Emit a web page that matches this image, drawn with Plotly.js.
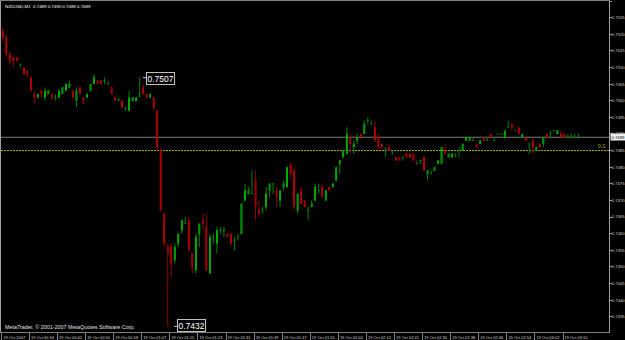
<!DOCTYPE html>
<html><head><meta charset="utf-8">
<script src="https://cdn.plot.ly/plotly-3.0.1.min.js"></script>
<style>html,body{margin:0;padding:0;background:#000;}#chart{width:625px;height:340px;}</style>
</head><body><div id="chart"></div>
<script>
const symbol = 'NZDUSD,M1';
const openP = [0.7521,0.7519,0.7514,0.7513,0.7513,0.7511,0.7510,0.7509,0.7507,0.7502,
0.7501,0.7503,0.7501,0.7502,0.7502,0.7501,0.7501,0.7502,0.7503,0.7504,
0.7503,0.7500,0.7504,0.7501,0.7501,0.7503,0.7505,0.7506,0.7506,0.7506,
0.7505,0.7504,0.7501,0.7500,0.7500,0.7498,0.7497,0.7500,0.7500,0.7502,
0.7504,0.7502,0.7501,0.7501,0.7497,0.7485,0.7466,0.7456,0.7456,0.7452,
0.7457,0.7461,0.7463,0.7464,0.7454,0.7449,0.7460,0.7464,0.7462,0.7448,
0.7459,0.7457,0.7461,0.7461,0.7460,0.7460,0.7458,0.7459,0.7460,0.7470,
0.7472,0.7472,0.7476,0.7467,0.7467,0.7468,0.7473,0.7475,0.7473,0.7470,
0.7474,0.7474,0.7481,0.7479,0.7467,0.7473,0.7470,0.7467,0.7468,0.7470,
0.7473,0.7474,0.7470,0.7474,0.7474,0.7476,0.7481,0.7483,0.7484,0.7489,
0.7486,0.7488,0.7490,0.7490,0.7494,0.7493,0.7492,0.7489,0.7487,0.7485,
0.7486,0.7484,0.7483,0.7483,0.7483,0.7484,0.7484,0.7484,0.7481,0.7482,
0.7483,0.7478,0.7478,0.7479,0.7481,0.7481,0.7485,0.7483,0.7483,0.7484,
0.7485,0.7485,0.7488,0.7488,0.7488,0.7487,0.7487,0.7489,0.7488,0.7490,
0.7488,0.7490,0.7490,0.7489,0.7492,0.7493,0.7491,0.7492,0.7489,0.7489,
0.7487,0.7488,0.7485,0.7487,0.7487,0.7490,0.7490,0.7491,0.7490,0.7490,
0.7490,0.7489,0.7489,0.7489,0.7489];
const highP = [0.7522,0.7520,0.7515,0.7513,0.7513,0.7511,0.7510,0.7509,0.7507,0.7503,
0.7502,0.7503,0.7504,0.7503,0.7502,0.7502,0.7503,0.7504,0.7505,0.7506,
0.7503,0.7504,0.7504,0.7501,0.7502,0.7505,0.7508,0.7506,0.7506,0.7507,
0.7506,0.7504,0.7501,0.7501,0.7500,0.7498,0.7503,0.7501,0.7501,0.7507,
0.7505,0.7502,0.7502,0.7501,0.7497,0.7486,0.7466,0.7457,0.7457,0.7457,
0.7460,0.7464,0.7465,0.7465,0.7454,0.7460,0.7463,0.7466,0.7466,0.7460,
0.7460,0.7462,0.7462,0.7462,0.7460,0.7460,0.7459,0.7460,0.7469,0.7475,
0.7474,0.7479,0.7479,0.7470,0.7468,0.7474,0.7475,0.7475,0.7474,0.7473,
0.7476,0.7480,0.7481,0.7480,0.7472,0.7474,0.7470,0.7468,0.7470,0.7475,
0.7475,0.7475,0.7473,0.7474,0.7475,0.7480,0.7482,0.7485,0.7492,0.7490,
0.7488,0.7490,0.7490,0.7494,0.7495,0.7494,0.7494,0.7490,0.7487,0.7486,
0.7487,0.7485,0.7483,0.7483,0.7483,0.7484,0.7484,0.7484,0.7482,0.7482,
0.7483,0.7479,0.7479,0.7480,0.7482,0.7486,0.7487,0.7484,0.7484,0.7484,
0.7486,0.7487,0.7489,0.7489,0.7489,0.7487,0.7488,0.7489,0.7489,0.7490,
0.7489,0.7490,0.7490,0.7491,0.7494,0.7493,0.7491,0.7492,0.7490,0.7489,
0.7487,0.7489,0.7486,0.7487,0.7489,0.7490,0.7491,0.7491,0.7491,0.7491,
0.7490,0.7490,0.7490,0.7490,0.7490];
const lowP = [0.7518,0.7513,0.7511,0.7510,0.7512,0.7510,0.7508,0.7507,0.7503,0.7499,
0.7501,0.7501,0.7500,0.7502,0.7500,0.7500,0.7501,0.7502,0.7503,0.7504,
0.7501,0.7498,0.7502,0.7499,0.7501,0.7503,0.7505,0.7505,0.7505,0.7505,
0.7505,0.7502,0.7500,0.7500,0.7498,0.7497,0.7497,0.7500,0.7500,0.7501,
0.7502,0.7501,0.7501,0.7497,0.7485,0.7467,0.7456,0.7432,0.7447,0.7451,
0.7456,0.7460,0.7463,0.7455,0.7448,0.7448,0.7456,0.7461,0.7449,0.7448,
0.7457,0.7454,0.7460,0.7459,0.7459,0.7457,0.7455,0.7458,0.7460,0.7470,
0.7472,0.7472,0.7464,0.7465,0.7466,0.7467,0.7471,0.7472,0.7468,0.7468,
0.7473,0.7474,0.7477,0.7467,0.7466,0.7469,0.7468,0.7464,0.7468,0.7470,
0.7472,0.7471,0.7470,0.7473,0.7474,0.7476,0.7478,0.7483,0.7484,0.7484,
0.7484,0.7487,0.7489,0.7490,0.7493,0.7493,0.7488,0.7485,0.7486,0.7483,
0.7485,0.7484,0.7482,0.7482,0.7482,0.7483,0.7483,0.7482,0.7481,0.7481,
0.7479,0.7476,0.7478,0.7479,0.7481,0.7481,0.7484,0.7483,0.7483,0.7483,
0.7483,0.7485,0.7488,0.7488,0.7488,0.7486,0.7487,0.7488,0.7488,0.7489,
0.7488,0.7490,0.7490,0.7489,0.7492,0.7491,0.7491,0.7490,0.7489,0.7488,
0.7484,0.7484,0.7485,0.7486,0.7486,0.7489,0.7489,0.7491,0.7490,0.7489,
0.7489,0.7489,0.7489,0.7489,0.7489];
const closeP = [0.7519,0.7514,0.7512,0.7512,0.7512,0.7511,0.7508,0.7508,0.7503,0.7501,
0.7502,0.7502,0.7503,0.7503,0.7501,0.7501,0.7503,0.7504,0.7505,0.7505,
0.7501,0.7503,0.7502,0.7500,0.7502,0.7505,0.7507,0.7505,0.7505,0.7506,
0.7505,0.7502,0.7500,0.7500,0.7498,0.7498,0.7501,0.7501,0.7501,0.7502,
0.7502,0.7501,0.7502,0.7498,0.7486,0.7467,0.7457,0.7454,0.7451,0.7456,
0.7460,0.7464,0.7463,0.7455,0.7450,0.7459,0.7463,0.7463,0.7449,0.7459,
0.7459,0.7461,0.7461,0.7461,0.7459,0.7457,0.7458,0.7459,0.7469,0.7473,
0.7473,0.7472,0.7468,0.7466,0.7467,0.7472,0.7475,0.7475,0.7471,0.7473,
0.7475,0.7480,0.7478,0.7468,0.7472,0.7469,0.7468,0.7467,0.7469,0.7474,
0.7473,0.7471,0.7473,0.7473,0.7475,0.7480,0.7482,0.7485,0.7490,0.7487,
0.7487,0.7489,0.7489,0.7493,0.7494,0.7493,0.7488,0.7486,0.7486,0.7485,
0.7485,0.7484,0.7482,0.7482,0.7483,0.7483,0.7483,0.7482,0.7481,0.7482,
0.7479,0.7479,0.7478,0.7480,0.7482,0.7486,0.7484,0.7484,0.7484,0.7484,
0.7485,0.7487,0.7489,0.7489,0.7488,0.7486,0.7488,0.7488,0.7488,0.7489,
0.7488,0.7490,0.7490,0.7491,0.7492,0.7492,0.7491,0.7490,0.7490,0.7488,
0.7487,0.7486,0.7486,0.7486,0.7489,0.7489,0.7490,0.7491,0.7491,0.7489,
0.7489,0.7489,0.7489,0.7489,0.7489];
const tickLabels = ['19 Oct 2007','19 Oct 00:34','19 Oct 00:42','19 Oct 00:50','19 Oct 00:58',
'19 Oct 01:07','19 Oct 01:15','19 Oct 01:23','19 Oct 01:31','19 Oct 01:39','19 Oct 01:47',
'19 Oct 01:55','19 Oct 02:04','19 Oct 02:12','19 Oct 02:21','19 Oct 02:30','19 Oct 02:38',
'19 Oct 02:46','19 Oct 02:54','19 Oct 03:02','19 Oct 03:10'];
const barsPerLabel = 8;
const bidPrice = 0.7489;
const fiboLevel = 0.7485;
const fiboLabel = '0.0';
const markHighIdx = 39;
const markLowIdx = 47;
const copyright = 'MetaTrader, \u00a9 2001-2007 MetaQuotes Software Corp.';

const n = openP.length;
const xs = openP.map((_, i) => i);
const upIdx = xs.filter(i => closeP[i] >= openP[i]);
const dnIdx = xs.filter(i => closeP[i] < openP[i]);
const pick = (arr, idx) => idx.map(i => arr[i]);
function wickTrace(idx, color) {
  return {type:'ohlc', x: idx, open: pick(openP, idx), high: pick(highP, idx), low: pick(lowP, idx), close: pick(closeP, idx),
    increasing:{line:{color:color, width:1}}, decreasing:{line:{color:color, width:1}},
    tickwidth:0.32, hoverinfo:'skip', showlegend:false};
}
const bodyHigh = xs.map(i => Math.max(openP[i], closeP[i]));
const bodyLow = xs.map(i => Math.min(openP[i], closeP[i]));
const bodies = {type:'candlestick', x: xs, open: openP, high: bodyHigh, low: bodyLow, close: closeP,
  increasing:{line:{color:'#00ff00', width:0}, fillcolor:'#00ff00'},
  decreasing:{line:{color:'#ff0000', width:0}, fillcolor:'#ff0000'},
  whiskerwidth:0, hoverinfo:'skip', showlegend:false};

const tickvals = tickLabels.map((_, k) => k * barsPerLabel - 0.4);
const fnt = 'Liberation Sans, Arial, sans-serif';
const last = n - 1;
const header = symbol + '  ' + [openP[last], highP[last], lowP[last], closeP[last]].map(v => v.toFixed(4)).join(' ');

const layout = {
  width:625, height:340, paper_bgcolor:'#000', plot_bgcolor:'#000',
  margin:{l:1, r:16, t:1, b:8},
  showlegend:false, boxgap:0.3,
  font:{family:fnt, color:'#d0d0d0'},
  xaxis:{range:[-0.5, 172.7], tickmode:'array', tickvals:tickvals, ticktext:tickLabels,
    ticks:'outside', ticklen:7, tickcolor:'#808080', tickwidth:1,
    tickfont:{family:fnt, size:4, color:'#d0d0d0'}, ticklabelshift:13, ticklabelstandoff:-6,
    showgrid:false, zeroline:false, showline:true, linecolor:'#808080', linewidth:1, mirror:true,
    rangeslider:{visible:false}, fixedrange:true},
  yaxis:{side:'right', range:[0.74304, 0.7530], tickmode:'linear', tick0:0.7430, dtick:0.0005, tickformat:'.4f',
    ticks:'outside', ticklen:2, tickcolor:'#a0a0a0', tickfont:{family:fnt, size:4.2, color:'#d0d0d0'},
    ticklabelstandoff:-1,
    showgrid:false, zeroline:false, showline:true, linecolor:'#a0a0a0', linewidth:1, mirror:true, fixedrange:true},
  shapes:[
    {type:'line', xref:'paper', x0:0, x1:1, yref:'y', y0:bidPrice, y1:bidPrice, layer:'below', line:{color:'#7a7a7a', width:1}},
    {type:'line', xref:'paper', x0:0, x1:1, yref:'y', y0:fiboLevel, y1:fiboLevel, layer:'below', line:{color:'#b4b400', width:1, dash:'2px,1px'}}
  ],
  annotations:[
    {xref:'paper', yref:'paper', x:0, y:1, xanchor:'left', yanchor:'top', xshift:2, yshift:-1, text:header, showarrow:false, font:{family:fnt, size:4.4, color:'#ffffff'}},
    {xref:'paper', yref:'paper', x:0, y:0, xanchor:'left', yanchor:'bottom', xshift:2, yshift:0, text:copyright, showarrow:false, font:{family:fnt, size:5.4, color:'#e0e0e0'}},
    {x:markHighIdx, y:highP[markHighIdx], text:highP[markHighIdx].toFixed(4), showarrow:true, arrowhead:0, arrowwidth:1, arrowcolor:'#d0d0d0',
      ax:21, ay:1, standoff:3.5, bgcolor:'#000', bordercolor:'#c0c0c0', borderwidth:1, borderpad:0.5, font:{family:fnt, size:8.5, color:'#ffffff'}},
    {x:markLowIdx, y:lowP[markLowIdx], text:lowP[markLowIdx].toFixed(4), showarrow:true, arrowhead:0, arrowwidth:1, arrowcolor:'#d0d0d0',
      ax:24, ay:-1, standoff:6.5, bgcolor:'#000', bordercolor:'#c0c0c0', borderwidth:1, borderpad:0.5, font:{family:fnt, size:8.5, color:'#ffffff'}},
    {xref:'paper', x:1, xanchor:'left', xshift:1, yref:'y', y:bidPrice, text:bidPrice.toFixed(4), showarrow:false, bgcolor:'#f0f0f0', borderpad:0.5, font:{family:fnt, size:4.2, color:'#000'}},
    {xref:'paper', x:1, xanchor:'right', xshift:-2, yref:'y', y:fiboLevel, yanchor:'bottom', text:fiboLabel, showarrow:false, font:{family:fnt, size:5, color:'#b4b400'}}
  ]
};
Plotly.newPlot('chart', [wickTrace(upIdx, '#008000'), wickTrace(dnIdx, '#8b0000'), bodies], layout, {staticPlot:true, displayModeBar:false});
</script></body></html>
